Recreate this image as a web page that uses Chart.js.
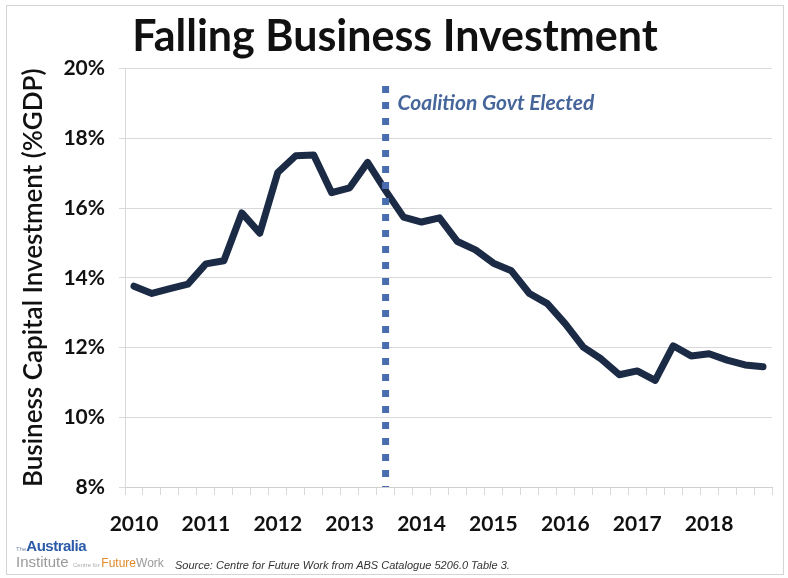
<!DOCTYPE html>
<html>
<head>
<meta charset="utf-8">
<script src="https://cdn.jsdelivr.net/npm/chart.js@4"></script>
<style>
  html, body { margin: 0; padding: 0; background: #fff; }
  #wrap { position: relative; width: 788px; height: 578px; overflow: hidden; }
  #frame { position: absolute; left: 6px; top: 5px; width: 776px; height: 568px; border: 1px solid #d4d4d4; }
  #box { position: absolute; left: 0; top: 0; width: 788px; height: 540px; }
  #logo { position: absolute; left: 16px; top: 538px; font-family: "Liberation Sans Narrow", "Liberation Sans", sans-serif; line-height: 1; }
  #logo .au { color: #2a5aa8; font-size: 15px; font-weight: bold; letter-spacing: -0.5px; }
  #logo .the { color: #7a8aa8; font-size: 6px; }
  #logo .inst { color: #9a9a9a; font-size: 15px; }
  #logo .fw { color: #e08a2a; font-size: 12px; }
  #logo .wk { color: #9a9a9a; font-size: 12px; }
  #src { position: absolute; left: 175px; top: 559px; font-family: "Liberation Sans Narrow", "Liberation Sans", sans-serif; font-style: italic; font-size: 11px; color: #333; }
</style>
</head>
<body>
<div id="wrap">
  <div id="frame"></div>
  <div id="box"><canvas id="chart"></canvas></div>
  <div id="logo"><span class="the">The</span><span class="au">Australia</span><br><span class="inst">Institute</span> <span class="fw" style="font-size:6px;color:#aaa">Centre for </span><span class="fw">Future</span><span class="wk">Work</span></div>
  <div id="src">Source: Centre for Future Work from ABS Catalogue 5206.0 Table 3.</div>
</div>
<script>
// Quarterly categories
const quarters = [
    '2010 Q1', '2010 Q2', '2010 Q3', '2010 Q4',
    '2011 Q1', '2011 Q2', '2011 Q3', '2011 Q4',
    '2012 Q1', '2012 Q2', '2012 Q3', '2012 Q4',
    '2013 Q1', '2013 Q2', '2013 Q3', '2013 Q4',
    '2014 Q1', '2014 Q2', '2014 Q3', '2014 Q4',
    '2015 Q1', '2015 Q2', '2015 Q3', '2015 Q4',
    '2016 Q1', '2016 Q2', '2016 Q3', '2016 Q4',
    '2017 Q1', '2017 Q2', '2017 Q3', '2017 Q4',
    '2018 Q1', '2018 Q2', '2018 Q3', '2018 Q4'
];

// Business capital investment, % of GDP
const investment = [
    13.76, 13.55, 13.69, 13.82,
    14.40, 14.49, 15.86, 15.28,
    17.02, 17.50, 17.52, 16.44,
    16.58, 17.31, 16.50, 15.74,
    15.60, 15.72, 15.04, 14.80,
    14.42, 14.20, 13.55, 13.26,
    12.68, 12.01, 11.67, 11.22,
    11.33, 11.06, 12.05, 11.76,
    11.82, 11.64, 11.50, 11.45
];

const yTicks = [8, 10, 12, 14, 16, 18, 20];

// Election marker
const electionQuarter = '2013 Q3';
const electionLabel = 'Coalition Govt Elected';
const markerTop = 19.5;
const labelLevel = 19.0;

const electionMarker = {
    id: 'electionMarker',
    afterDatasetsDraw(chart) {
        const ctx = chart.ctx;
        const x = chart.scales.x.getPixelForValue(quarters.indexOf(electionQuarter));
        const y1 = chart.scales.y.getPixelForValue(markerTop);
        const y2 = chart.scales.y.getPixelForValue(8);
        ctx.save();
        ctx.strokeStyle = '#4a6db0';
        ctx.lineWidth = 7;
        ctx.setLineDash([7, 9]);
        ctx.beginPath();
        ctx.moveTo(x, y1);
        ctx.lineTo(x, y2);
        ctx.stroke();
        ctx.setLineDash([]);
        ctx.fillStyle = '#46659a';
        ctx.font = 'italic bold 21px Lato, sans-serif';
        ctx.textBaseline = 'middle';
        ctx.fillText(electionLabel, x + 12, chart.scales.y.getPixelForValue(labelLevel));
        ctx.restore();
    }
};

new Chart(document.getElementById('chart').getContext('2d'), {
    type: 'line',
    data: {
        labels: quarters,
        datasets: [{
            label: 'Business Capital Investment',
            data: investment,
            borderColor: '#1b2a45',
            borderWidth: 7,
            borderJoinStyle: 'round',
            borderCapStyle: 'round',
            pointRadius: 0,
            fill: false,
            tension: 0
        }]
    },
    options: {
        responsive: true,
        maintainAspectRatio: false,
        animation: false,
        layout: { padding: { left: 18, right: 16, bottom: 4 } },
        plugins: {
            legend: { display: false },
            tooltip: { enabled: false },
            title: {
                display: true,
                text: 'Falling Business Investment',
                color: '#111',
                font: { family: 'Lato', size: 43, weight: 'bold' },
                padding: { top: 11, bottom: 6 }
            }
        },
        scales: {
            x: {
                type: 'category',
                offset: true,
                grid: { offset: true, drawOnChartArea: false, tickLength: 8, color: '#d9d9d9' },
                border: { color: '#d0d0d0' },
                ticks: {
                    autoSkip: false,
                    maxRotation: 0,
                    padding: 17,
                    color: '#111',
                    font: { family: 'Lato', size: 21, weight: 'bold' },
                    callback: (v, i) => quarters[i].endsWith('Q1') ? quarters[i].slice(0, 4) : ''
                },
                afterFit: s => { s.height = 49; }
            },
            y: {
                min: 8,
                max: 20,
                afterBuildTicks: s => { s.ticks = yTicks.map(v => ({ value: v })); },
                grid: { color: '#d9d9d9', tickLength: 6 },
                border: { color: '#d9d9d9' },
                ticks: {
                    padding: 14,
                    color: '#111',
                    font: { family: 'Lato', size: 21, weight: 'bold' },
                    callback: v => v + '%'
                },
                title: {
                    display: true,
                    text: 'Business Capital Investment (%GDP)',
                    color: '#111',
                    font: { family: 'Lato', size: 26, weight: '600' },
                    padding: 0
                },
                afterFit: s => { s.width = 107; }
            }
        }
    },
    plugins: [electionMarker]
});
</script>
</body>
</html>
